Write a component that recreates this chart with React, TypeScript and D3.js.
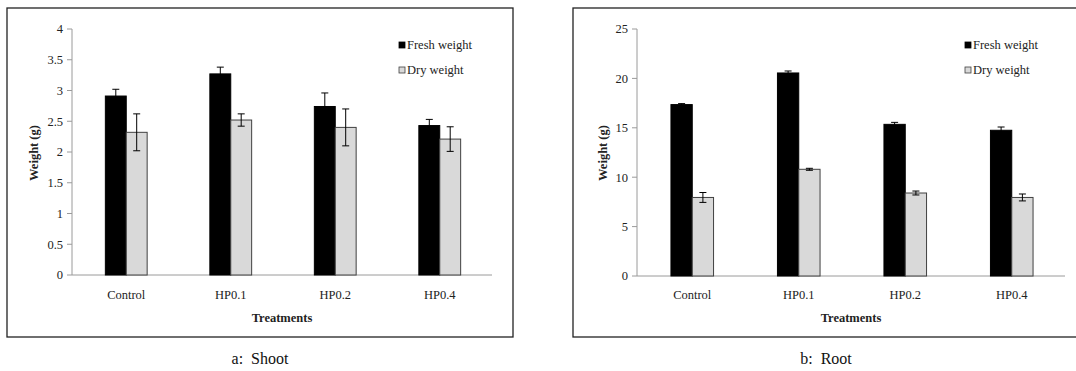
import { scaleBand, scaleLinear } from "d3";

const treatments = ["Control", "HP0.1", "HP0.2", "HP0.4"];
const seriesNames = ["Fresh weight", "Dry weight"];

// shoot (g)
const shootFresh = [2.91, 3.27, 2.74, 2.43];
const shootFreshErr = [0.11, 0.11, 0.22, 0.1];
const shootDry = [2.32, 2.52, 2.4, 2.21];
const shootDryErr = [0.3, 0.1, 0.3, 0.2];
const shootTicks = [0, 0.5, 1, 1.5, 2, 2.5, 3, 3.5, 4];

// root (g)
const rootFresh = [17.35, 20.55, 15.35, 14.75];
const rootFreshErr = [0.1, 0.2, 0.2, 0.33];
const rootDry = [7.95, 10.8, 8.4, 7.95];
const rootDryErr = [0.5, 0.1, 0.2, 0.35];
const rootTicks = [0, 5, 10, 15, 20, 25];

const FONT = "Liberation Serif";
const COLORS = ["#000000", "#d9d9d9"];
const STROKES = ["#000000", "#404040"];

type PanelProps = {
  left: number;
  axisX: number;
  rangeEnd: number;
  yMax: number;
  y0: number;
  ticks: number[];
  fresh: number[];
  freshErr: number[];
  dry: number[];
  dryErr: number[];
  titleX: number;
  caption: string;
};

function Panel(p: PanelProps) {
  const boxW = 506;
  const top = 8;
  const boxH = 329;

  const x = scaleBand<string>()
    .domain(treatments)
    .range([p.axisX + 2, p.rangeEnd])
    .paddingInner(0.6)
    .paddingOuter(0.3);
  const sub = scaleBand<string>().domain(seriesNames).range([0, x.bandwidth()]);
  const y = scaleLinear().domain([0, p.yMax]).range([p.y0, 29]);

  const series = [
    { name: seriesNames[0], vals: p.fresh, errs: p.freshErr },
    { name: seriesNames[1], vals: p.dry, errs: p.dryErr },
  ];
  const midX = (p.axisX + p.rangeEnd) / 2;

  return (
    <g>
      <rect x={p.left} y={top} width={boxW} height={boxH} fill="#fff" stroke="#222" strokeWidth={1.3} />

      {/* y axis */}
      <line x1={p.axisX} x2={p.axisX} y1={y(p.yMax)} y2={y(0)} stroke="#9a9a9a" />
      {p.ticks.map((t) => (
        <g key={t}>
          <line x1={p.axisX - 5} x2={p.axisX} y1={y(t)} y2={y(t)} stroke="#9a9a9a" />
          <text x={p.axisX - 9} y={y(t)} dy="0.35em" textAnchor="end" fontSize={12.5} fill="#222" fontFamily={FONT}>
            {t}
          </text>
        </g>
      ))}
      <line x1={p.axisX} x2={p.rangeEnd} y1={y(0)} y2={y(0)} stroke="#9a9a9a" />

      {/* bars */}
      {series.map((s, si) =>
        treatments.map((c, i) => {
          const bx = (x(c) ?? 0) + (sub(s.name) ?? 0);
          const bw = sub.bandwidth();
          const cx = bx + bw / 2;
          const v = s.vals[i];
          const e = s.errs[i];
          return (
            <g key={s.name + c}>
              <rect
                x={bx}
                y={y(v)}
                width={bw}
                height={y(0) - y(v)}
                fill={COLORS[si]}
                stroke={STROKES[si]}
                strokeWidth={1}
              />
              <line x1={cx} x2={cx} y1={y(v + e)} y2={y(v - e)} stroke="#000" />
              <line x1={cx - 3.5} x2={cx + 3.5} y1={y(v + e)} y2={y(v + e)} stroke="#000" />
              <line x1={cx - 3.5} x2={cx + 3.5} y1={y(v - e)} y2={y(v - e)} stroke="#000" />
            </g>
          );
        })
      )}

      {/* category labels */}
      {treatments.map((c) => (
        <text
          key={c}
          x={(x(c) ?? 0) + x.bandwidth() / 2}
          y={299}
          textAnchor="middle"
          fontSize={12.5}
          fill="#222"
          fontFamily={FONT}
        >
          {c}
        </text>
      ))}
      <text x={midX} y={322} textAnchor="middle" fontSize={12.5} fontWeight="bold" fill="#222" fontFamily={FONT}>
        Treatments
      </text>
      <text
        transform={`translate(${p.titleX},153) rotate(-90)`}
        dy="0.35em"
        textAnchor="middle"
        fontSize={12.5}
        fontWeight="bold"
        fill="#222"
        fontFamily={FONT}
      >
        Weight (g)
      </text>

      {/* legend */}
      {seriesNames.map((n, i) => (
        <g key={n} transform={`translate(${p.left + 392},${45 + i * 25})`}>
          <rect x={0} y={-3} width={6} height={6} fill={COLORS[i]} stroke={STROKES[i]} strokeWidth={0.8} />
          <text x={8} y={0} dy="0.35em" fontSize={12.5} fill="#222" fontFamily={FONT}>
            {n}
          </text>
        </g>
      ))}

      <text
        x={p.left + boxW / 2}
        y={364}
        textAnchor="middle"
        fontSize={16}
        fill="#111"
        fontFamily={FONT}
        style={{ whiteSpace: "pre" }}
      >
        {p.caption}
      </text>
    </g>
  );
}

export default function App() {
  return (
    <svg width={1076} height={371} style={{ position: "absolute", left: 0, top: 0, background: "#fff" }}>
      <rect width={1076} height={371} fill="#fff" />
      <Panel
        left={7}
        axisX={72}
        rangeEnd={492}
        yMax={4}
        y0={275}
        ticks={shootTicks}
        fresh={shootFresh}
        freshErr={shootFreshErr}
        dry={shootDry}
        dryErr={shootDryErr}
        titleX={34}
        caption={"a:  Shoot"}
      />
      <Panel
        left={573}
        axisX={637}
        rangeEnd={1065}
        yMax={25}
        y0={276}
        ticks={rootTicks}
        fresh={rootFresh}
        freshErr={rootFreshErr}
        dry={rootDry}
        dryErr={rootDryErr}
        titleX={603}
        caption={"b:  Root"}
      />
    </svg>
  );
}
